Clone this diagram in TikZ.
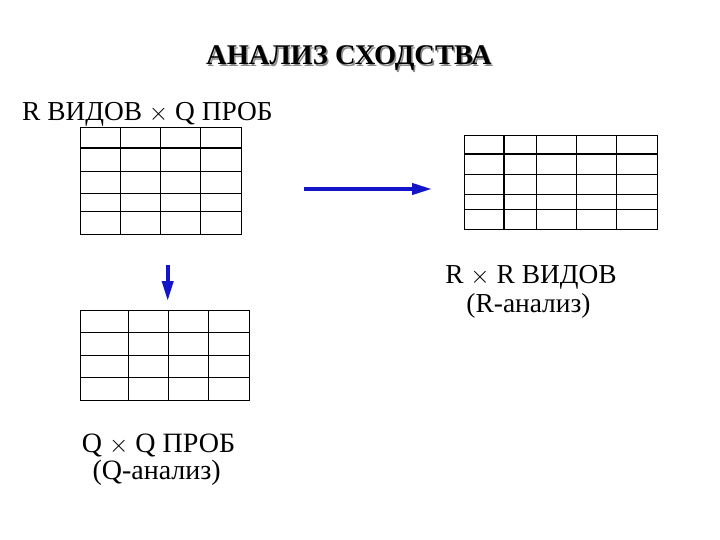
\documentclass[tikz,border=0pt]{standalone}
\usepackage{fontspec}
\setmainfont{Liberation Serif}
\usetikzlibrary{arrows.meta}
\definecolor{arrowblue}{RGB}{20,20,200}
\tikzset{
  lbl/.style={inner sep=0pt, font=\fontsize{27.4}{30}\selectfont},
  lblq/.style={inner sep=0pt, font=\fontsize{28}{30}\selectfont},
  ttl/.style={inner sep=0pt, font=\fontsize{28.5}{31}\selectfont\bfseries},
  grid/.style={draw=black, line width=1.1pt},
  tablebox/.style={draw=black, line width=1.1pt, inner sep=0pt, anchor=north west},
  bluearrow/.style={draw=arrowblue, line width=3.8pt, -{Triangle[length=20pt,width=11pt]}}
}
\begin{document}
\begin{tikzpicture}[x=1pt,y=-1pt]
\useasboundingbox[fill=white] (0,0) rectangle (720,540);
% title with shadow
\node[ttl, text=black!45, anchor=base] (titleshadow) at (350.5,66.5) {АНАЛИЗ СХОДСТВА};
\node[ttl, anchor=base] (title) at (349,65) {АНАЛИЗ СХОДСТВА};
% top label
\node[lbl, anchor=base west] (lab1) at (22,120.7) {R ВИДОВ $\times$ Q ПРОБ};
% table 1
\node[tablebox, minimum width=160.7pt, minimum height=107.3pt] (t1) at (80,126.7) {};
\foreach \x in {120.3,160.3,200.7} \draw[grid] (\x,126.7) -- (\x,234);
\foreach \y in {148,171.3,193.3,211.7} \draw[grid] (80,\y) -- (240.7,\y);
% table 2
\node[tablebox, minimum width=192.4pt, minimum height=94.3pt] (t2) at (464.3,135) {};
\foreach \x in {504,536.3,576.3,616.3} \draw[grid] (\x,135) -- (\x,229.3);
\foreach \y in {154,174.3,194.7,209.3} \draw[grid] (464.3,\y) -- (656.7,\y);
% table 3
\node[tablebox, minimum width=169pt, minimum height=90.3pt] (t3) at (80,310) {};
\foreach \x in {128.7,168.7,208.7} \draw[grid] (\x,310) -- (\x,400.3);
\foreach \y in {332.3,355.7,377.7} \draw[grid] (80,\y) -- (249,\y);
% arrows
\coordinate (a1s) at (304,189);
\coordinate (a1e) at (432,189);
\draw[bluearrow] (a1s) -- (a1e);
\coordinate (a2s) at (167.7,265);
\coordinate (a2e) at (167.7,301);
\draw[bluearrow] (a2s) -- (a2e);
% labels
\node[lbl, anchor=base] (lab2a) at (531,283.3) {R $\times$ R ВИДОВ};
\node[lbl, anchor=base] (lab2b) at (528.5,312.5) {(R-анализ)};
\node[lblq, anchor=base] (lab3a) at (158.5,452) {Q $\times$ Q ПРОБ};
\node[lblq, anchor=base] (lab3b) at (156.7,479.5) {(Q-анализ)};
\end{tikzpicture}
\end{document}
